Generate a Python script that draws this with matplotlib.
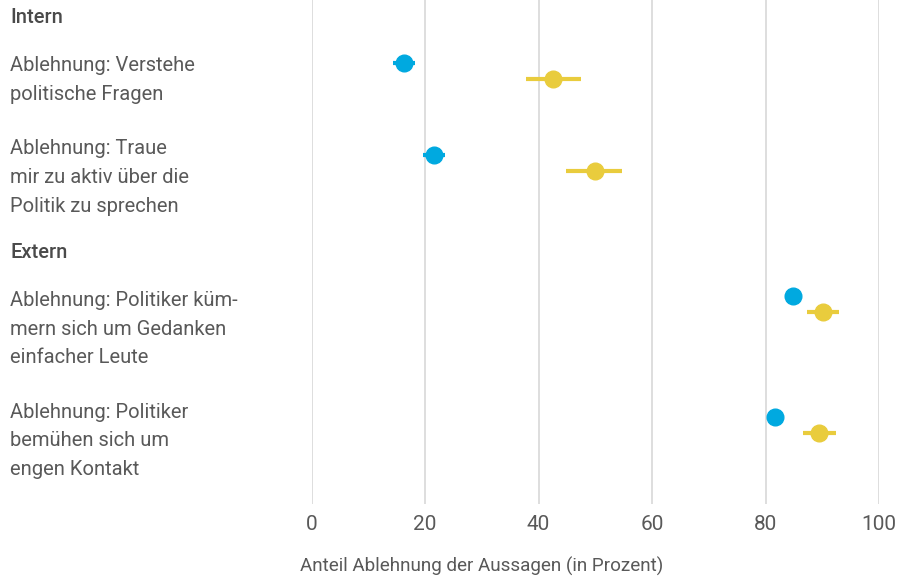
import numpy as np
import matplotlib
matplotlib.use("Agg")
from matplotlib import pyplot as plt
from matplotlib import transforms

plt.rcParams['font.family'] = ['Roboto', 'DejaVu Sans']

# Werte (Anteil Ablehnung in Prozent) und Fehlerbereiche
fragen = [
    ["Ablehnung: Verstehe", "politische Fragen"],
    ["Ablehnung: Traue", "mir zu aktiv über die", "Politik zu sprechen"],
    ["Ablehnung: Politiker küm-", "mern sich um Gedanken", "einfacher Leute"],
    ["Ablehnung: Politiker", "bemühen sich um", "engen Kontakt"],
]
gruppen = ["Intern", "Extern"]

blau_wert = [16.2, 21.6, 84.8, 81.6]
blau_lo = [14.3, 19.7, 83.5, 80.2]
blau_hi = [18.2, 23.5, 86.1, 83.1]

gelb_wert = [42.6, 49.9, 90.1, 89.4]
gelb_lo = [37.7, 44.9, 87.3, 86.6]
gelb_hi = [47.5, 54.7, 93.0, 92.4]

ticks = [0, 20, 40, 60, 80, 100]

# Layout in Pixeln von oben (Achse reicht bis 504)
zeilen_y = [70.7, 163.2, 303.7, 424.7]
versatz = 8.0
gruppen_y = [23.3, 258.3]
text_y = [71, 154.3, 306, 417.7]
zeilenabstand = 28.7

BLAU = "#00a9e0"
GELB = "#e9cc3d"
GRAU = "#595959"

fig = plt.figure(figsize=(9.14, 5.79), dpi=100)
ax = fig.add_axes([311.7 / 914, 1 - 504 / 579, (879 - 311.7) / 914, 504 / 579])
ax.set_xlim(0, 100)
ax.set_ylim(504, 0)

y = np.array(zeilen_y)
b = np.array(blau_wert)
g = np.array(gelb_wert)
ax.errorbar(b, y - versatz, xerr=[b - np.array(blau_lo), np.array(blau_hi) - b],
            fmt="o", color=BLAU, ms=12, elinewidth=3, capsize=0, zorder=3)
ax.errorbar(g, y + versatz, xerr=[g - np.array(gelb_lo), np.array(gelb_hi) - g],
            fmt="o", color=GELB, ms=12, elinewidth=3, capsize=0, zorder=3)

ax.set_xticks(ticks)
ax.set_yticks([])
ax.grid(axis="x", color="#d4d4d4", linewidth=1.1)
ax.set_axisbelow(True)
for s in ax.spines.values():
    s.set_visible(False)
ax.tick_params(axis="x", length=0, pad=8, labelsize=15, labelcolor=GRAU)

# Beschriftungen links
trans = transforms.blended_transform_factory(fig.transFigure, ax.transData)
lx = 10 / 914
for name, gy in zip(gruppen, gruppen_y):
    ax.text(lx, gy, name, transform=trans, fontsize=14.5, fontweight="medium",
            color="#4a4a4a", va="baseline", ha="left")
for zeilen, ty in zip(fragen, text_y):
    for i, z in enumerate(zeilen):
        ax.text(lx, ty + i * zeilenabstand, z, transform=trans, fontsize=14.5,
                color=GRAU, va="baseline", ha="left")

fig.text(300 / 914, 1 - 572 / 579, "Anteil Ablehnung der Aussagen (in Prozent)",
         fontsize=13.6, color=GRAU, va="baseline", ha="left")

fig.savefig("out.png", dpi=100)
